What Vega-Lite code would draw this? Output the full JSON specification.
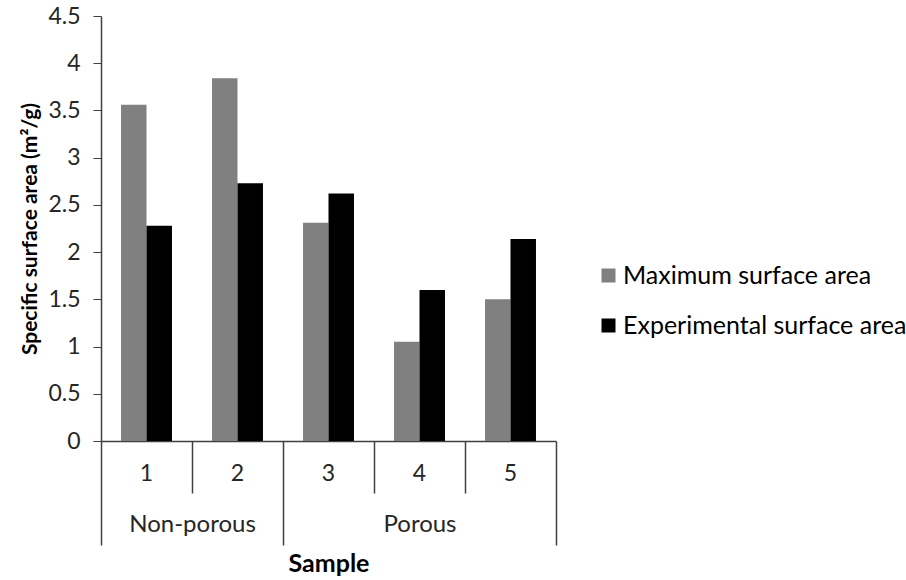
{
  "$schema": "https://vega.github.io/schema/vega-lite/v6.json",
  "autosize": {"type": "none"},
  "width": 455,
  "height": 425,
  "padding": {"left": 101, "top": 16, "right": 350, "bottom": 139},
  "background": "white",
  "config": {
    "view": {"stroke": null},
    "font": "Lato",
    "axis": {"labelFont": "Lato", "titleFont": "Lato", "labelColor": "#262626", "titleColor": "#000000", "domainColor": "#404040", "tickColor": "#404040", "grid": false},
    "legend": {"labelFont": "Lato"}
  },
  "data": {
    "values": [
      {"sample": 1, "group": "Non-porous", "series": "Maximum surface area", "value": 3.56},
      {"sample": 1, "group": "Non-porous", "series": "Experimental surface area", "value": 2.28},
      {"sample": 2, "group": "Non-porous", "series": "Maximum surface area", "value": 3.84},
      {"sample": 2, "group": "Non-porous", "series": "Experimental surface area", "value": 2.73},
      {"sample": 3, "group": "Porous", "series": "Maximum surface area", "value": 2.31},
      {"sample": 3, "group": "Porous", "series": "Experimental surface area", "value": 2.62},
      {"sample": 4, "group": "Porous", "series": "Maximum surface area", "value": 1.05},
      {"sample": 4, "group": "Porous", "series": "Experimental surface area", "value": 1.60},
      {"sample": 5, "group": "Porous", "series": "Maximum surface area", "value": 1.50},
      {"sample": 5, "group": "Porous", "series": "Experimental surface area", "value": 2.14}
    ]
  },
  "layer": [
    {
      "mark": {"type": "bar"},
      "encoding": {
        "x": {
          "field": "sample", "type": "ordinal",
          "scale": {"paddingInner": 0.44, "paddingOuter": 0.22},
          "axis": {"orient": "bottom", "title": null, "labelAngle": 0, "ticks": false, "tickSize": 0, "labelPadding": 21, "labelFontSize": 23, "domainWidth": 1.5}
        },
        "xOffset": {
          "field": "series", "type": "nominal",
          "scale": {"domain": ["Maximum surface area", "Experimental surface area"], "paddingInner": 0, "paddingOuter": 0}
        },
        "y": {
          "field": "value", "type": "quantitative",
          "scale": {"domain": [0, 4.5], "nice": false},
          "axis": {"values": [0, 0.5, 1, 1.5, 2, 2.5, 3, 3.5, 4, 4.5], "format": "~g", "tickSize": 8, "labelPadding": 13, "labelFontSize": 23, "title": "Specific surface area (m²/g)", "titleFontSize": 21, "titleFontWeight": "bold", "titlePadding": 7, "domainWidth": 1.5}
        },
        "color": {
          "field": "series", "type": "nominal",
          "scale": {"domain": ["Maximum surface area", "Experimental surface area"], "range": ["#808080", "#000000"]},
          "legend": {"title": null, "orient": "none", "legendX": 495, "legendY": 247, "symbolType": "square", "symbolSize": 196, "symbolStrokeWidth": 0, "labelFontSize": 25, "labelColor": "#000000", "labelLimit": 0, "rowPadding": 24, "labelOffset": 2, "padding": 0}
        }
      }
    },
    {
      "mark": {"type": "point", "opacity": 0},
      "encoding": {
        "x": {
          "field": "sample", "type": "quantitative",
          "scale": {"domain": [0, 5], "nice": false, "zero": false},
          "axis": {"orient": "bottom", "values": [1, 3, 4], "tickSize": 52, "tickWidth": 1.5, "labels": false, "domain": false, "title": null}
        }
      }
    },
    {
      "mark": {"type": "point", "opacity": 0},
      "encoding": {
        "x": {
          "field": "sample", "type": "quantitative",
          "scale": {"domain": [0, 5], "nice": false, "zero": false},
          "axis": {"orient": "bottom", "values": [0, 2, 5], "tickSize": 104, "tickWidth": 1.5, "labels": false, "domain": false, "title": "Sample", "titleFontSize": 25, "titleFontWeight": "bold", "titlePadding": 6}
        }
      }
    },
    {
      "mark": {"type": "point", "opacity": 0},
      "encoding": {
        "x": {
          "field": "sample", "type": "quantitative",
          "scale": {"domain": [0, 5], "nice": false, "zero": false},
          "axis": {"orient": "bottom", "values": [1, 3.5], "labelExpr": "datum.value == 1 ? 'Non-porous' : 'Porous'", "ticks": false, "tickSize": 0, "labelPadding": 71, "labelFontSize": 24, "domain": false, "title": null}
        }
      }
    }
  ],
  "resolve": {"scale": {"x": "independent"}, "axis": {"x": "independent"}}
}
